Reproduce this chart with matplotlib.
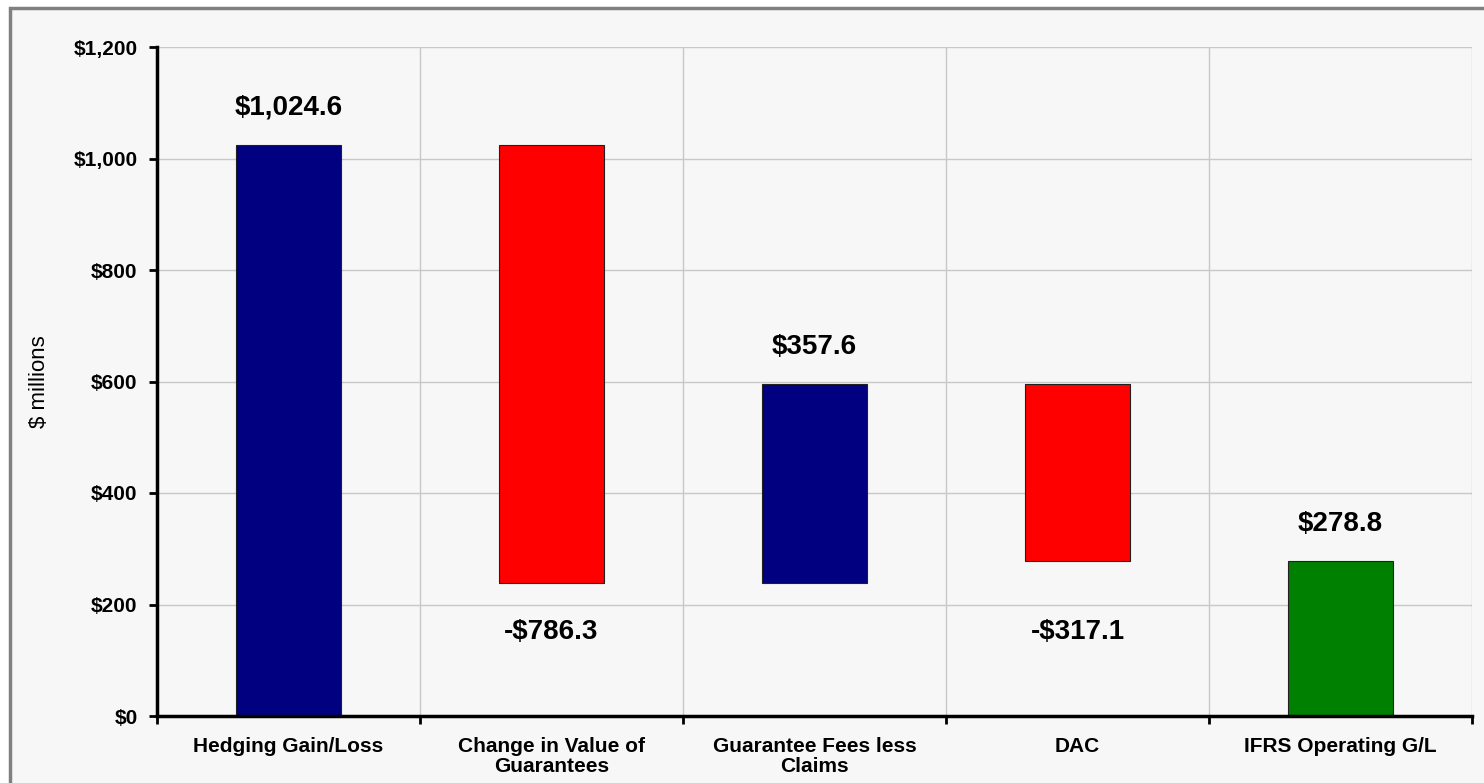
import matplotlib.pyplot as plt
import numpy as np
from matplotlib.patches import Rectangle
from matplotlib.ticker import FuncFormatter

categories = ["Hedging Gain/Loss", "Change in Value of\nGuarantees",
              "Guarantee Fees less\nClaims", "DAC", "IFRS Operating G/L"]
changes = [1024.6, -786.3, 357.6, -317.1]
colors = ["#000080", "#FF0000", "#000080", "#FF0000", "#008000"]

plt.rcParams['font.family'] = ['Liberation Sans', 'DejaVu Sans']

# waterfall: running totals
total = float(np.sum(changes))
bottoms = []
heights = []
running = 0.0
for c in changes:
    if c >= 0:
        bottoms.append(running)
        heights.append(c)
    else:
        bottoms.append(running + c)
        heights.append(-c)
    running += c
bottoms.append(0.0)
heights.append(total)
values = changes + [round(total, 1)]

fig = plt.figure(figsize=(14.84, 7.83), dpi=100)
fig.patch.set_facecolor("white")
# outer chart frame
fig.patches.append(Rectangle((10 / 1484, -0.1), 1.2, 1 - 8.5 / 783 + 0.1,
                             transform=fig.transFigure, facecolor="#F7F7F7",
                             edgecolor="#808080", linewidth=2.5, zorder=-5))

ax = fig.add_axes([157 / 1484, 1 - 716 / 783, (1472 - 157) / 1484, (716 - 47) / 783])
ax.set_zorder(2)
ax.set_facecolor("none")

x = np.arange(len(categories))
ax.bar(x, heights, bottom=bottoms, width=0.4, color=colors,
       edgecolor="#202020", linewidth=0.8, zorder=3)

for i, v in enumerate(values):
    if v >= 0:
        ax.annotate("${:,.1f}".format(v), (x[i], bottoms[i] + heights[i]),
                    xytext=(0, 37), textcoords="offset pixels",
                    ha="center", va="center", fontsize=20, fontweight="bold")
    else:
        ax.text(x[i], 150, "-${:,.1f}".format(-v), ha="center", va="center",
                fontsize=20, fontweight="bold")

ax.set_xlim(-0.5, len(categories) - 0.5)
ax.set_ylim(0, 1200)
ax.set_yticks(np.arange(0, 1201, 200))
ax.yaxis.set_major_formatter(FuncFormatter(lambda v, p: "${:,.0f}".format(v)))
ax.set_xticks(x)
ax.set_xticklabels(categories, fontsize=15, fontweight="bold", linespacing=1.05)
ax.set_xticks(np.arange(-0.5, len(categories), 1), minor=True)
ax.tick_params(axis="x", which="major", length=0, pad=15)
ax.tick_params(axis="x", which="minor", length=6, width=2, direction="out")
ax.tick_params(axis="y", length=6, width=2, direction="out", labelsize=15, pad=8)
for lab in ax.get_yticklabels():
    lab.set_fontweight("bold")

ax.grid(axis="y", color="#C8C8C8", linewidth=1, zorder=0)
ax.grid(axis="x", which="minor", color="#C8C8C8", linewidth=1, zorder=0)
ax.set_axisbelow(True)

for s in ["top", "right"]:
    ax.spines[s].set_visible(False)
for s in ["left", "bottom"]:
    ax.spines[s].set_linewidth(2.5)
    ax.spines[s].set_zorder(4)

ax.set_ylabel("$ millions", fontsize=16, labelpad=17)

fig.savefig("out.png", dpi=100)
